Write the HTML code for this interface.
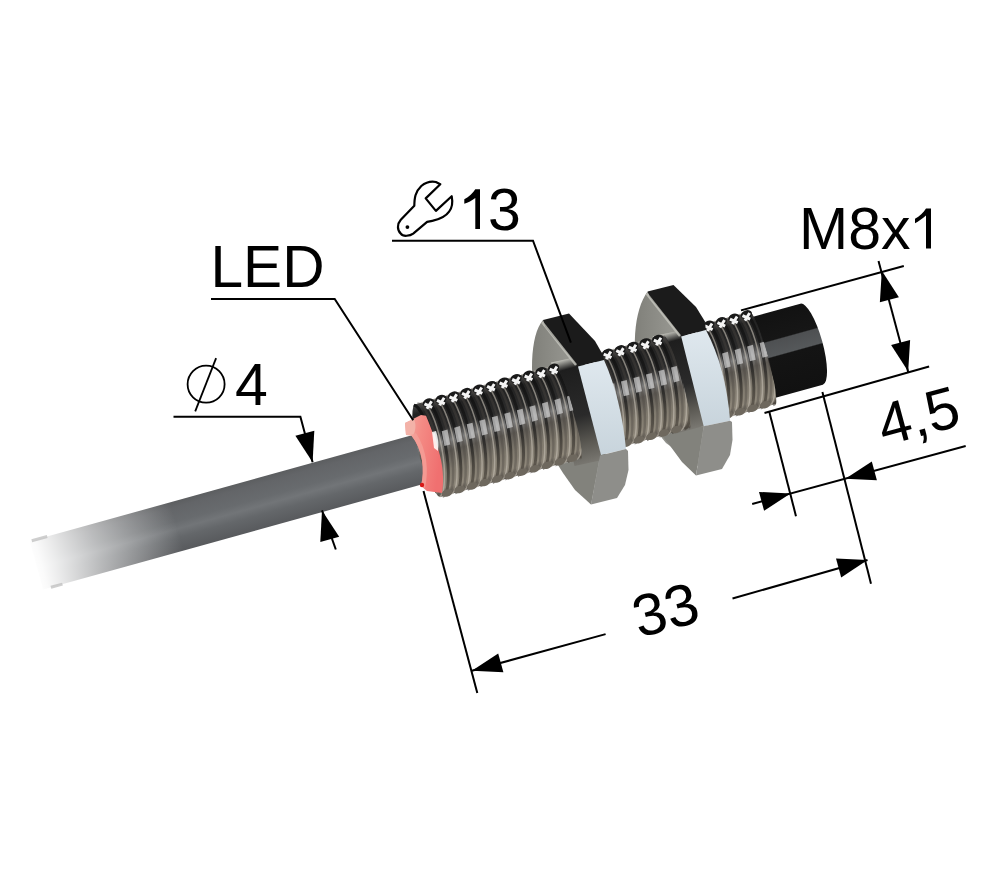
<!DOCTYPE html>
<html><head><meta charset="utf-8"><style>html,body{margin:0;padding:0;background:#fff;width:1000px;height:888px;overflow:hidden}svg{display:block}</style></head>
<body><svg width="1000" height="888" viewBox="0 0 1000 888"><defs>
 <linearGradient id="gCable" x1="0" y1="0" x2="0" y2="1">
  <stop offset="0" stop-color="#5c5e60"/>
  <stop offset="0.12" stop-color="#636568"/>
  <stop offset="0.4" stop-color="#686b6e"/>
  <stop offset="0.55" stop-color="#727578"/>
  <stop offset="0.72" stop-color="#64676a"/>
  <stop offset="1" stop-color="#585a5d"/>
 </linearGradient>
 <linearGradient id="gFade" x1="0" y1="0" x2="1" y2="0">
  <stop offset="0" stop-color="#fff" stop-opacity="1"/>
  <stop offset="0.06" stop-color="#fff" stop-opacity="0.97"/>
  <stop offset="0.15" stop-color="#fff" stop-opacity="0.88"/>
  <stop offset="0.45" stop-color="#fff" stop-opacity="0.55"/>
  <stop offset="1" stop-color="#fff" stop-opacity="0"/>
 </linearGradient>
 <linearGradient id="gThread" x1="0" y1="0" x2="0" y2="1">
  <stop offset="0" stop-color="#4a4a4a"/>
  <stop offset="0.1" stop-color="#222"/>
  <stop offset="0.32" stop-color="#2c2c2c"/>
  <stop offset="0.45" stop-color="#7c7c7c"/>
  <stop offset="0.56" stop-color="#5e5a54"/>
  <stop offset="0.75" stop-color="#807a6e"/>
  <stop offset="0.92" stop-color="#8e877a"/>
  <stop offset="1" stop-color="#5a554e"/>
 </linearGradient>
 <linearGradient id="gCap" x1="0" y1="0" x2="0" y2="1">
  <stop offset="0" stop-color="#121212"/>
  <stop offset="0.325" stop-color="#161616"/>
  <stop offset="0.34" stop-color="#4e5052"/>
  <stop offset="0.515" stop-color="#55585a"/>
  <stop offset="0.53" stop-color="#141414"/>
  <stop offset="1" stop-color="#111"/>
 </linearGradient>
 <linearGradient id="gDisk" x1="0" y1="0" x2="1" y2="0">
  <stop offset="0" stop-color="#80807a"/>
  <stop offset="1" stop-color="#a8a8a2"/>
 </linearGradient>
 <linearGradient id="gGroove" gradientUnits="userSpaceOnUse" x1="0" y1="-48" x2="0" y2="48">
  <stop offset="0" stop-color="#101010" stop-opacity="0.9"/>
  <stop offset="0.5" stop-color="#1c1c1c" stop-opacity="0.8"/>
  <stop offset="1" stop-color="#403a32" stop-opacity="0.55"/>
 </linearGradient>
 <linearGradient id="gLed" x1="0" y1="0" x2="1" y2="0.3">
  <stop offset="0" stop-color="#f4aaa2"/>
  <stop offset="0.45" stop-color="#f48a84"/>
  <stop offset="1" stop-color="#f07070"/>
 </linearGradient>
 <linearGradient id="gHole" x1="0" y1="0" x2="0" y2="1">
  <stop offset="0" stop-color="#c8c8c0"/>
  <stop offset="0.1" stop-color="#1e1e1e"/>
  <stop offset="0.55" stop-color="#2a2a2a"/>
  <stop offset="0.8" stop-color="#5a5852"/>
  <stop offset="1" stop-color="#7a7872"/>
 </linearGradient>
 <linearGradient id="gLight" x1="0" y1="0" x2="0" y2="1">
  <stop offset="0" stop-color="#dfe8ee"/>
  <stop offset="1" stop-color="#c8d4dc"/>
 </linearGradient>
</defs><g transform="translate(430 450) rotate(-15.5)"><rect x="-410" y="-19" width="402" height="50" fill="url(#gCable)"/><path d="M -8 -19 A 7 25 0 0 1 -8 31 Z" fill="#626467"/><rect x="-414" y="-22" width="150" height="56" fill="url(#gFade)"/><path d="M -408 -19 L -392 -19 M -402 31 L -390 31" stroke="#bbb" stroke-width="3" opacity="0.7"/></g><path d="M 543,320 C 530,335 528,380 540,420 C 546,440 553,456 561,468 L 591,504 L 601,455 L 578,366.6 L 545,327 Z" fill="url(#gDisk)"/><path d="M 647.6,291.5 C 634,310 630,350 642,395 C 648,415 656,432 666,443 L 699,467 L 704,426 L 681,336.6 L 649,297 Z" fill="url(#gDisk)"/><polygon points="558,465 563,473 575,490 591,504.5 600,455.5" fill="#82827c"/><polygon points="659,432 668,443 682,462 696,475.5 703.7,426.2" fill="#82827c"/><g transform="translate(430 450) rotate(-15.5)"><path d="M 330 -42 L 396 -42 A 11 42 0 0 1 396 42 L 330 42 Z" fill="url(#gCap)"/></g><g transform="translate(430 450) rotate(-15.5)"><path d="M 140 -52 L 172 -50 L 168 56 L 135 54 Z" fill="url(#gHole)"/><path d="M 245 -50 L 277 -48 L 276 50 L 240 50 Z" fill="url(#gHole)"/></g><g transform="translate(430 450) rotate(-15.5)"><clipPath id="c1"><path d="M 0 -50 L 143 -50 A 8 50 0 0 1 138 50 L 0 50 A 12 50 0 0 1 0 -50 Z"/></clipPath><g clip-path="url(#c1)"><rect x="-15" y="-48" width="163" height="96" fill="url(#gThread)"/><g transform="skewX(-5)"><path d="M -9.0 -48 A 12 48 0 0 1 -9.0 48" fill="none" stroke="url(#gGroove)" stroke-width="3"/><path d="M -4.0 -48 A 12 48 0 0 1 -4.0 48" fill="none" stroke="#4a4640" stroke-width="2.5" stroke-opacity="0.4"/><path d="M 0.0 -48 A 12 48 0 0 1 0.0 48" fill="none" stroke="#c4beb2" stroke-width="1.5" stroke-opacity="0.6"/><rect x="2.0" y="-15" width="6" height="15" fill="#d0d0d0" opacity="0.72"/><path d="M 4.0 -48 A 12 48 0 0 1 4.0 48" fill="none" stroke="url(#gGroove)" stroke-width="3"/><path d="M 9.0 -48 A 12 48 0 0 1 9.0 48" fill="none" stroke="#4a4640" stroke-width="2.5" stroke-opacity="0.4"/><path d="M 13.0 -48 A 12 48 0 0 1 13.0 48" fill="none" stroke="#c4beb2" stroke-width="1.5" stroke-opacity="0.6"/><rect x="15.0" y="-15" width="6" height="15" fill="#d0d0d0" opacity="0.72"/><path d="M 17.0 -48 A 12 48 0 0 1 17.0 48" fill="none" stroke="url(#gGroove)" stroke-width="3"/><path d="M 22.0 -48 A 12 48 0 0 1 22.0 48" fill="none" stroke="#4a4640" stroke-width="2.5" stroke-opacity="0.4"/><path d="M 26.0 -48 A 12 48 0 0 1 26.0 48" fill="none" stroke="#c4beb2" stroke-width="1.5" stroke-opacity="0.6"/><rect x="28.0" y="-15" width="6" height="15" fill="#d0d0d0" opacity="0.72"/><path d="M 30.0 -48 A 12 48 0 0 1 30.0 48" fill="none" stroke="url(#gGroove)" stroke-width="3"/><path d="M 35.0 -48 A 12 48 0 0 1 35.0 48" fill="none" stroke="#4a4640" stroke-width="2.5" stroke-opacity="0.4"/><path d="M 39.0 -48 A 12 48 0 0 1 39.0 48" fill="none" stroke="#c4beb2" stroke-width="1.5" stroke-opacity="0.6"/><rect x="41.0" y="-15" width="6" height="15" fill="#d0d0d0" opacity="0.72"/><path d="M 43.0 -48 A 12 48 0 0 1 43.0 48" fill="none" stroke="url(#gGroove)" stroke-width="3"/><path d="M 48.0 -48 A 12 48 0 0 1 48.0 48" fill="none" stroke="#4a4640" stroke-width="2.5" stroke-opacity="0.4"/><path d="M 52.0 -48 A 12 48 0 0 1 52.0 48" fill="none" stroke="#c4beb2" stroke-width="1.5" stroke-opacity="0.6"/><rect x="54.0" y="-15" width="6" height="15" fill="#d0d0d0" opacity="0.72"/><path d="M 56.0 -48 A 12 48 0 0 1 56.0 48" fill="none" stroke="url(#gGroove)" stroke-width="3"/><path d="M 61.0 -48 A 12 48 0 0 1 61.0 48" fill="none" stroke="#4a4640" stroke-width="2.5" stroke-opacity="0.4"/><path d="M 65.0 -48 A 12 48 0 0 1 65.0 48" fill="none" stroke="#c4beb2" stroke-width="1.5" stroke-opacity="0.6"/><rect x="67.0" y="-15" width="6" height="15" fill="#d0d0d0" opacity="0.72"/><path d="M 69.0 -48 A 12 48 0 0 1 69.0 48" fill="none" stroke="url(#gGroove)" stroke-width="3"/><path d="M 74.0 -48 A 12 48 0 0 1 74.0 48" fill="none" stroke="#4a4640" stroke-width="2.5" stroke-opacity="0.4"/><path d="M 78.0 -48 A 12 48 0 0 1 78.0 48" fill="none" stroke="#c4beb2" stroke-width="1.5" stroke-opacity="0.6"/><rect x="80.0" y="-15" width="6" height="15" fill="#d0d0d0" opacity="0.72"/><path d="M 82.0 -48 A 12 48 0 0 1 82.0 48" fill="none" stroke="url(#gGroove)" stroke-width="3"/><path d="M 87.0 -48 A 12 48 0 0 1 87.0 48" fill="none" stroke="#4a4640" stroke-width="2.5" stroke-opacity="0.4"/><path d="M 91.0 -48 A 12 48 0 0 1 91.0 48" fill="none" stroke="#c4beb2" stroke-width="1.5" stroke-opacity="0.6"/><rect x="93.0" y="-15" width="6" height="15" fill="#d0d0d0" opacity="0.72"/><path d="M 95.0 -48 A 12 48 0 0 1 95.0 48" fill="none" stroke="url(#gGroove)" stroke-width="3"/><path d="M 100.0 -48 A 12 48 0 0 1 100.0 48" fill="none" stroke="#4a4640" stroke-width="2.5" stroke-opacity="0.4"/><path d="M 104.0 -48 A 12 48 0 0 1 104.0 48" fill="none" stroke="#c4beb2" stroke-width="1.5" stroke-opacity="0.6"/><rect x="106.0" y="-15" width="6" height="15" fill="#d0d0d0" opacity="0.72"/><path d="M 108.0 -48 A 12 48 0 0 1 108.0 48" fill="none" stroke="url(#gGroove)" stroke-width="3"/><path d="M 113.0 -48 A 12 48 0 0 1 113.0 48" fill="none" stroke="#4a4640" stroke-width="2.5" stroke-opacity="0.4"/><path d="M 117.0 -48 A 12 48 0 0 1 117.0 48" fill="none" stroke="#c4beb2" stroke-width="1.5" stroke-opacity="0.6"/><rect x="119.0" y="-15" width="6" height="15" fill="#d0d0d0" opacity="0.72"/><path d="M 121.0 -48 A 12 48 0 0 1 121.0 48" fill="none" stroke="url(#gGroove)" stroke-width="3"/><path d="M 126.0 -48 A 12 48 0 0 1 126.0 48" fill="none" stroke="#4a4640" stroke-width="2.5" stroke-opacity="0.4"/><path d="M 130.0 -48 A 12 48 0 0 1 130.0 48" fill="none" stroke="#c4beb2" stroke-width="1.5" stroke-opacity="0.6"/><rect x="132.0" y="-15" width="6" height="15" fill="#d0d0d0" opacity="0.72"/><path d="M 134.0 -48 A 12 48 0 0 1 134.0 48" fill="none" stroke="url(#gGroove)" stroke-width="3"/><path d="M 139.0 -48 A 12 48 0 0 1 139.0 48" fill="none" stroke="#4a4640" stroke-width="2.5" stroke-opacity="0.4"/><path d="M 143.0 -48 A 12 48 0 0 1 143.0 48" fill="none" stroke="#c4beb2" stroke-width="1.5" stroke-opacity="0.6"/><rect x="145.0" y="-15" width="6" height="15" fill="#d0d0d0" opacity="0.72"/><path d="M 147.0 -48 A 12 48 0 0 1 147.0 48" fill="none" stroke="url(#gGroove)" stroke-width="3"/><path d="M 152.0 -48 A 12 48 0 0 1 152.0 48" fill="none" stroke="#4a4640" stroke-width="2.5" stroke-opacity="0.4"/><path d="M 156.0 -48 A 12 48 0 0 1 156.0 48" fill="none" stroke="#c4beb2" stroke-width="1.5" stroke-opacity="0.6"/><rect x="158.0" y="-15" width="6" height="15" fill="#d0d0d0" opacity="0.72"/></g></g><g transform="skewX(-5)"><ellipse cx="7.0" cy="-46" rx="5.8" ry="4.2" fill="#1a1a1a"/><path d="M 3.0 -46 L 10.0 -40.5 M 10.5 -46.5 L 4.5 -40.5" stroke="#f4f4f4" stroke-width="3"/><ellipse cx="9.0" cy="46" rx="5.5" ry="3.5" fill="#6e685e"/><ellipse cx="20.0" cy="-46" rx="5.8" ry="4.2" fill="#1a1a1a"/><path d="M 16.0 -46 L 23.0 -40.5 M 23.5 -46.5 L 17.5 -40.5" stroke="#f4f4f4" stroke-width="3"/><ellipse cx="22.0" cy="46" rx="5.5" ry="3.5" fill="#6e685e"/><ellipse cx="33.0" cy="-46" rx="5.8" ry="4.2" fill="#1a1a1a"/><path d="M 29.0 -46 L 36.0 -40.5 M 36.5 -46.5 L 30.5 -40.5" stroke="#f4f4f4" stroke-width="3"/><ellipse cx="35.0" cy="46" rx="5.5" ry="3.5" fill="#6e685e"/><ellipse cx="46.0" cy="-46" rx="5.8" ry="4.2" fill="#1a1a1a"/><path d="M 42.0 -46 L 49.0 -40.5 M 49.5 -46.5 L 43.5 -40.5" stroke="#f4f4f4" stroke-width="3"/><ellipse cx="48.0" cy="46" rx="5.5" ry="3.5" fill="#6e685e"/><ellipse cx="59.0" cy="-46" rx="5.8" ry="4.2" fill="#1a1a1a"/><path d="M 55.0 -46 L 62.0 -40.5 M 62.5 -46.5 L 56.5 -40.5" stroke="#f4f4f4" stroke-width="3"/><ellipse cx="61.0" cy="46" rx="5.5" ry="3.5" fill="#6e685e"/><ellipse cx="72.0" cy="-46" rx="5.8" ry="4.2" fill="#1a1a1a"/><path d="M 68.0 -46 L 75.0 -40.5 M 75.5 -46.5 L 69.5 -40.5" stroke="#f4f4f4" stroke-width="3"/><ellipse cx="74.0" cy="46" rx="5.5" ry="3.5" fill="#6e685e"/><ellipse cx="85.0" cy="-46" rx="5.8" ry="4.2" fill="#1a1a1a"/><path d="M 81.0 -46 L 88.0 -40.5 M 88.5 -46.5 L 82.5 -40.5" stroke="#f4f4f4" stroke-width="3"/><ellipse cx="87.0" cy="46" rx="5.5" ry="3.5" fill="#6e685e"/><ellipse cx="98.0" cy="-46" rx="5.8" ry="4.2" fill="#1a1a1a"/><path d="M 94.0 -46 L 101.0 -40.5 M 101.5 -46.5 L 95.5 -40.5" stroke="#f4f4f4" stroke-width="3"/><ellipse cx="100.0" cy="46" rx="5.5" ry="3.5" fill="#6e685e"/><ellipse cx="111.0" cy="-46" rx="5.8" ry="4.2" fill="#1a1a1a"/><path d="M 107.0 -46 L 114.0 -40.5 M 114.5 -46.5 L 108.5 -40.5" stroke="#f4f4f4" stroke-width="3"/><ellipse cx="113.0" cy="46" rx="5.5" ry="3.5" fill="#6e685e"/><ellipse cx="124.0" cy="-46" rx="5.8" ry="4.2" fill="#1a1a1a"/><path d="M 120.0 -46 L 127.0 -40.5 M 127.5 -46.5 L 121.5 -40.5" stroke="#f4f4f4" stroke-width="3"/><ellipse cx="126.0" cy="46" rx="5.5" ry="3.5" fill="#6e685e"/><ellipse cx="137.0" cy="-46" rx="5.8" ry="4.2" fill="#1a1a1a"/><path d="M 133.0 -46 L 140.0 -40.5 M 140.5 -46.5 L 134.5 -40.5" stroke="#f4f4f4" stroke-width="3"/><ellipse cx="139.0" cy="46" rx="5.5" ry="3.5" fill="#6e685e"/></g><clipPath id="c2"><path d="M 190 -50 L 256 -50 A 8 50 0 0 1 251 50 L 190 50 A 12 50 0 0 1 190 -50 Z"/></clipPath><g clip-path="url(#c2)"><rect x="175" y="-48" width="86" height="96" fill="url(#gThread)"/><g transform="skewX(-5)"><path d="M 177.0 -48 A 12 48 0 0 1 177.0 48" fill="none" stroke="url(#gGroove)" stroke-width="3"/><path d="M 182.0 -48 A 12 48 0 0 1 182.0 48" fill="none" stroke="#4a4640" stroke-width="2.5" stroke-opacity="0.4"/><path d="M 186.0 -48 A 12 48 0 0 1 186.0 48" fill="none" stroke="#c4beb2" stroke-width="1.5" stroke-opacity="0.6"/><rect x="188.0" y="-15" width="6" height="15" fill="#d0d0d0" opacity="0.72"/><path d="M 190.0 -48 A 12 48 0 0 1 190.0 48" fill="none" stroke="url(#gGroove)" stroke-width="3"/><path d="M 195.0 -48 A 12 48 0 0 1 195.0 48" fill="none" stroke="#4a4640" stroke-width="2.5" stroke-opacity="0.4"/><path d="M 199.0 -48 A 12 48 0 0 1 199.0 48" fill="none" stroke="#c4beb2" stroke-width="1.5" stroke-opacity="0.6"/><rect x="201.0" y="-15" width="6" height="15" fill="#d0d0d0" opacity="0.72"/><path d="M 203.0 -48 A 12 48 0 0 1 203.0 48" fill="none" stroke="url(#gGroove)" stroke-width="3"/><path d="M 208.0 -48 A 12 48 0 0 1 208.0 48" fill="none" stroke="#4a4640" stroke-width="2.5" stroke-opacity="0.4"/><path d="M 212.0 -48 A 12 48 0 0 1 212.0 48" fill="none" stroke="#c4beb2" stroke-width="1.5" stroke-opacity="0.6"/><rect x="214.0" y="-15" width="6" height="15" fill="#d0d0d0" opacity="0.72"/><path d="M 216.0 -48 A 12 48 0 0 1 216.0 48" fill="none" stroke="url(#gGroove)" stroke-width="3"/><path d="M 221.0 -48 A 12 48 0 0 1 221.0 48" fill="none" stroke="#4a4640" stroke-width="2.5" stroke-opacity="0.4"/><path d="M 225.0 -48 A 12 48 0 0 1 225.0 48" fill="none" stroke="#c4beb2" stroke-width="1.5" stroke-opacity="0.6"/><rect x="227.0" y="-15" width="6" height="15" fill="#d0d0d0" opacity="0.72"/><path d="M 229.0 -48 A 12 48 0 0 1 229.0 48" fill="none" stroke="url(#gGroove)" stroke-width="3"/><path d="M 234.0 -48 A 12 48 0 0 1 234.0 48" fill="none" stroke="#4a4640" stroke-width="2.5" stroke-opacity="0.4"/><path d="M 238.0 -48 A 12 48 0 0 1 238.0 48" fill="none" stroke="#c4beb2" stroke-width="1.5" stroke-opacity="0.6"/><rect x="240.0" y="-15" width="6" height="15" fill="#d0d0d0" opacity="0.72"/><path d="M 242.0 -48 A 12 48 0 0 1 242.0 48" fill="none" stroke="url(#gGroove)" stroke-width="3"/><path d="M 247.0 -48 A 12 48 0 0 1 247.0 48" fill="none" stroke="#4a4640" stroke-width="2.5" stroke-opacity="0.4"/><path d="M 251.0 -48 A 12 48 0 0 1 251.0 48" fill="none" stroke="#c4beb2" stroke-width="1.5" stroke-opacity="0.6"/><rect x="253.0" y="-15" width="6" height="15" fill="#d0d0d0" opacity="0.72"/><path d="M 255.0 -48 A 12 48 0 0 1 255.0 48" fill="none" stroke="url(#gGroove)" stroke-width="3"/><path d="M 260.0 -48 A 12 48 0 0 1 260.0 48" fill="none" stroke="#4a4640" stroke-width="2.5" stroke-opacity="0.4"/><path d="M 264.0 -48 A 12 48 0 0 1 264.0 48" fill="none" stroke="#c4beb2" stroke-width="1.5" stroke-opacity="0.6"/><rect x="266.0" y="-15" width="6" height="15" fill="#d0d0d0" opacity="0.72"/><path d="M 268.0 -48 A 12 48 0 0 1 268.0 48" fill="none" stroke="url(#gGroove)" stroke-width="3"/><path d="M 273.0 -48 A 12 48 0 0 1 273.0 48" fill="none" stroke="#4a4640" stroke-width="2.5" stroke-opacity="0.4"/><path d="M 277.0 -48 A 12 48 0 0 1 277.0 48" fill="none" stroke="#c4beb2" stroke-width="1.5" stroke-opacity="0.6"/><rect x="279.0" y="-15" width="6" height="15" fill="#d0d0d0" opacity="0.72"/></g></g><g transform="skewX(-5)"><ellipse cx="193.0" cy="-46" rx="5.8" ry="4.2" fill="#1a1a1a"/><path d="M 189.0 -46 L 196.0 -40.5 M 196.5 -46.5 L 190.5 -40.5" stroke="#f4f4f4" stroke-width="3"/><ellipse cx="195.0" cy="46" rx="5.5" ry="3.5" fill="#6e685e"/><ellipse cx="206.0" cy="-46" rx="5.8" ry="4.2" fill="#1a1a1a"/><path d="M 202.0 -46 L 209.0 -40.5 M 209.5 -46.5 L 203.5 -40.5" stroke="#f4f4f4" stroke-width="3"/><ellipse cx="208.0" cy="46" rx="5.5" ry="3.5" fill="#6e685e"/><ellipse cx="219.0" cy="-46" rx="5.8" ry="4.2" fill="#1a1a1a"/><path d="M 215.0 -46 L 222.0 -40.5 M 222.5 -46.5 L 216.5 -40.5" stroke="#f4f4f4" stroke-width="3"/><ellipse cx="221.0" cy="46" rx="5.5" ry="3.5" fill="#6e685e"/><ellipse cx="232.0" cy="-46" rx="5.8" ry="4.2" fill="#1a1a1a"/><path d="M 228.0 -46 L 235.0 -40.5 M 235.5 -46.5 L 229.5 -40.5" stroke="#f4f4f4" stroke-width="3"/><ellipse cx="234.0" cy="46" rx="5.5" ry="3.5" fill="#6e685e"/><ellipse cx="245.0" cy="-46" rx="5.8" ry="4.2" fill="#1a1a1a"/><path d="M 241.0 -46 L 248.0 -40.5 M 248.5 -46.5 L 242.5 -40.5" stroke="#f4f4f4" stroke-width="3"/><ellipse cx="247.0" cy="46" rx="5.5" ry="3.5" fill="#6e685e"/></g><clipPath id="c3"><path d="M 295 -50 L 345 -50 A 8 50 0 0 1 340 50 L 295 50 A 12 50 0 0 1 295 -50 Z"/></clipPath><g clip-path="url(#c3)"><rect x="280" y="-48" width="70" height="96" fill="url(#gThread)"/><g transform="skewX(-5)"><path d="M 282.0 -48 A 12 48 0 0 1 282.0 48" fill="none" stroke="url(#gGroove)" stroke-width="3"/><path d="M 287.0 -48 A 12 48 0 0 1 287.0 48" fill="none" stroke="#4a4640" stroke-width="2.5" stroke-opacity="0.4"/><path d="M 291.0 -48 A 12 48 0 0 1 291.0 48" fill="none" stroke="#c4beb2" stroke-width="1.5" stroke-opacity="0.6"/><rect x="293.0" y="-15" width="6" height="15" fill="#d0d0d0" opacity="0.72"/><path d="M 295.0 -48 A 12 48 0 0 1 295.0 48" fill="none" stroke="url(#gGroove)" stroke-width="3"/><path d="M 300.0 -48 A 12 48 0 0 1 300.0 48" fill="none" stroke="#4a4640" stroke-width="2.5" stroke-opacity="0.4"/><path d="M 304.0 -48 A 12 48 0 0 1 304.0 48" fill="none" stroke="#c4beb2" stroke-width="1.5" stroke-opacity="0.6"/><rect x="306.0" y="-15" width="6" height="15" fill="#d0d0d0" opacity="0.72"/><path d="M 308.0 -48 A 12 48 0 0 1 308.0 48" fill="none" stroke="url(#gGroove)" stroke-width="3"/><path d="M 313.0 -48 A 12 48 0 0 1 313.0 48" fill="none" stroke="#4a4640" stroke-width="2.5" stroke-opacity="0.4"/><path d="M 317.0 -48 A 12 48 0 0 1 317.0 48" fill="none" stroke="#c4beb2" stroke-width="1.5" stroke-opacity="0.6"/><rect x="319.0" y="-15" width="6" height="15" fill="#d0d0d0" opacity="0.72"/><path d="M 321.0 -48 A 12 48 0 0 1 321.0 48" fill="none" stroke="url(#gGroove)" stroke-width="3"/><path d="M 326.0 -48 A 12 48 0 0 1 326.0 48" fill="none" stroke="#4a4640" stroke-width="2.5" stroke-opacity="0.4"/><path d="M 330.0 -48 A 12 48 0 0 1 330.0 48" fill="none" stroke="#c4beb2" stroke-width="1.5" stroke-opacity="0.6"/><rect x="332.0" y="-15" width="6" height="15" fill="#d0d0d0" opacity="0.72"/><path d="M 334.0 -48 A 12 48 0 0 1 334.0 48" fill="none" stroke="url(#gGroove)" stroke-width="3"/><path d="M 339.0 -48 A 12 48 0 0 1 339.0 48" fill="none" stroke="#4a4640" stroke-width="2.5" stroke-opacity="0.4"/><path d="M 343.0 -48 A 12 48 0 0 1 343.0 48" fill="none" stroke="#c4beb2" stroke-width="1.5" stroke-opacity="0.6"/><rect x="345.0" y="-15" width="6" height="15" fill="#d0d0d0" opacity="0.72"/><path d="M 347.0 -48 A 12 48 0 0 1 347.0 48" fill="none" stroke="url(#gGroove)" stroke-width="3"/><path d="M 352.0 -48 A 12 48 0 0 1 352.0 48" fill="none" stroke="#4a4640" stroke-width="2.5" stroke-opacity="0.4"/><path d="M 356.0 -48 A 12 48 0 0 1 356.0 48" fill="none" stroke="#c4beb2" stroke-width="1.5" stroke-opacity="0.6"/><rect x="358.0" y="-15" width="6" height="15" fill="#d0d0d0" opacity="0.72"/></g></g><g transform="skewX(-5)"><ellipse cx="298.0" cy="-46" rx="5.8" ry="4.2" fill="#1a1a1a"/><path d="M 294.0 -46 L 301.0 -40.5 M 301.5 -46.5 L 295.5 -40.5" stroke="#f4f4f4" stroke-width="3"/><ellipse cx="300.0" cy="46" rx="5.5" ry="3.5" fill="#6e685e"/><ellipse cx="311.0" cy="-46" rx="5.8" ry="4.2" fill="#1a1a1a"/><path d="M 307.0 -46 L 314.0 -40.5 M 314.5 -46.5 L 308.5 -40.5" stroke="#f4f4f4" stroke-width="3"/><ellipse cx="313.0" cy="46" rx="5.5" ry="3.5" fill="#6e685e"/><ellipse cx="324.0" cy="-46" rx="5.8" ry="4.2" fill="#1a1a1a"/><path d="M 320.0 -46 L 327.0 -40.5 M 327.5 -46.5 L 321.5 -40.5" stroke="#f4f4f4" stroke-width="3"/><ellipse cx="326.0" cy="46" rx="5.5" ry="3.5" fill="#6e685e"/><ellipse cx="337.0" cy="-46" rx="5.8" ry="4.2" fill="#1a1a1a"/><path d="M 333.0 -46 L 340.0 -40.5 M 340.5 -46.5 L 334.5 -40.5" stroke="#f4f4f4" stroke-width="3"/><ellipse cx="339.0" cy="46" rx="5.5" ry="3.5" fill="#6e685e"/></g></g><path d="M 405,423 L 421,415 L 426,415.7 C 431,428 438,445 441,460 C 443,470 444,482 442,493 L 427,491 L 421,486 C 425,470 423,450 411,435 L 406,435 Z" fill="url(#gLed)"/><path d="M 405,423 L 414,419 C 416,424 416,430 413,436 L 406,435 Z" fill="#f3b2a8"/><path d="M 411,435 C 423,450 425,470 421,486 L 425,488 C 429,470 427,450 416,433 Z" fill="#f4a098" opacity="0.8"/><path d="M 432,432 L 436,431 C 438,437 439,444 438,451 L 434,448 Z" fill="#fff" opacity="0.85"/><circle cx="422" cy="485" r="2.2" fill="#d81818"/><polygon points="543,320 569,313.5 595,341 603,355 604,360 578,366.6 545,327" fill="#1b1b1b"/><path d="M 578,366.6 L 604,360 Q 621,398 626,449 L 601,455 Z" fill="url(#gLight)"/><polygon points="600,455.5 626,449 628,451 628.5,470 625,485 617,498 591,504.5" fill="#8e8e8a"/><polygon points="647.6,291.5 673.5,284.9 696,306.9 704.8,321.2 705.9,330 681.2,336.6 649.3,297" fill="#1b1b1b"/><path d="M 681.2,336.6 L 705.9,330 Q 726,368 730.1,420.7 L 703.7,426.2 Z" fill="url(#gLight)"/><polygon points="703.7,426.2 730.1,420.7 732,422 732.5,440 730,455 722,469 696,475.5" fill="#8e8e8a"/><path d="M 542,322 L 576,365" stroke="#c4c4bc" stroke-width="2.5" opacity="0.8"/><path d="M 646.5,293.5 L 680,336" stroke="#c4c4bc" stroke-width="2.5" opacity="0.8"/><polyline points="392,240.7 533,240.7 570.9,342.6" fill="none" stroke="#000" stroke-width="2.0"/><polyline points="211,298.9 334.7,298.9 413.2,420.3" fill="none" stroke="#000" stroke-width="2.0"/><polyline points="173.5,416.7 300.4,416.7 312.6,462.2" fill="none" stroke="#000" stroke-width="2.0"/><polygon points="312.6,462.2 295.4,435.8 314.3,430.7" fill="#000"/><line x1="322.0" y1="510.4" x2="335.8" y2="549.5" stroke="#000" stroke-width="2.0"/><polygon points="322.0,510.4 339.2,536.8 320.3,541.9" fill="#000"/><line x1="741.0" y1="310.4" x2="903.8" y2="266.0" stroke="#000" stroke-width="2.0"/><line x1="764.5" y1="413.0" x2="929.1" y2="366.5" stroke="#000" stroke-width="2.0"/><line x1="878.5" y1="260.9" x2="908.2" y2="372.0" stroke="#000" stroke-width="2.0"/><polygon points="881.8,270.8 898.9,297.3 879.9,302.3" fill="#000"/><polygon points="908.2,371.6 891.1,345.1 910.1,340.1" fill="#000"/><line x1="769.2" y1="411.4" x2="796.0" y2="516.2" stroke="#000" stroke-width="2.0"/><line x1="822.4" y1="391.9" x2="871.0" y2="583.8" stroke="#000" stroke-width="2.0"/><line x1="752.2" y1="504.0" x2="965.7" y2="446.0" stroke="#000" stroke-width="2.0"/><polygon points="790.5,493.5 764.1,510.8 759.0,491.9" fill="#000"/><polygon points="845.4,478.7 871.8,461.4 876.9,480.3" fill="#000"/><line x1="423.5" y1="491.0" x2="477.3" y2="693.0" stroke="#000" stroke-width="2.0"/><line x1="471.9" y1="670.8" x2="605.6" y2="634.1" stroke="#000" stroke-width="2.0"/><line x1="732.5" y1="598.5" x2="867.5" y2="560.0" stroke="#000" stroke-width="2.0"/><polygon points="471.9,670.8 498.2,653.4 503.4,672.3" fill="#000"/><polygon points="867.5,560.0 841.2,577.4 836.0,558.5" fill="#000"/><g font-family="Liberation Sans, sans-serif" fill="#000"><text x="488" y="229.5" font-size="59">3</text><path d="M 475.3,189.3 L 480,189.3 L 480,229 L 475.3,229 L 475.3,197.9 C 472,200.5 468,202.5 464.3,203.7 L 464.3,199.2 C 469,197 473,193 475.3,189.3 Z"/><text x="210.5" y="286.5" font-size="59" textLength="114" lengthAdjust="spacingAndGlyphs">LED</text><text x="235" y="404.8" font-size="59">4</text><text x="799" y="248.8" font-size="59" textLength="111.5" lengthAdjust="spacingAndGlyphs">M8x</text><path d="M 926,208.6 L 931,208.6 L 931,248.5 L 926,248.5 L 926,215.6 C 922.5,218.5 918.5,221.8 915,223.2 L 915,218.8 C 919.5,216.5 923.5,212.5 926,208.6 Z"/><text x="0" y="0" font-size="59" transform="translate(884 446) rotate(-15)">4,5</text><text x="0" y="0" font-size="59" transform="translate(639 638) rotate(-15)">33</text><ellipse cx="206.1" cy="384.2" rx="18.5" ry="18.5" fill="none" stroke="#000" stroke-width="1.8"/><line x1="216.1" y1="358.1" x2="195.2" y2="411.3" stroke="#000" stroke-width="1.8"/></g><path d="M 440.3,184.2 L 425.7,198.4 L 435.9,210.9 L 451.7,196.2 C 453,203 452,208 449.1,211.6 C 446,216 441,219 432.3,220.8 L 427.1,221.9 L 413.2,233.6 C 410,236 403,237 400.8,233.6 C 397,230 397,224 400.8,219.7 L 414.3,205.7 C 414.5,198 415,192 421.3,186 C 425,183 431,181 435.9,182 Z" fill="none" stroke="#000" stroke-width="2.2" stroke-linejoin="round"/><circle cx="407.4" cy="227.1" r="1.9" fill="#000"/></svg></body></html>
